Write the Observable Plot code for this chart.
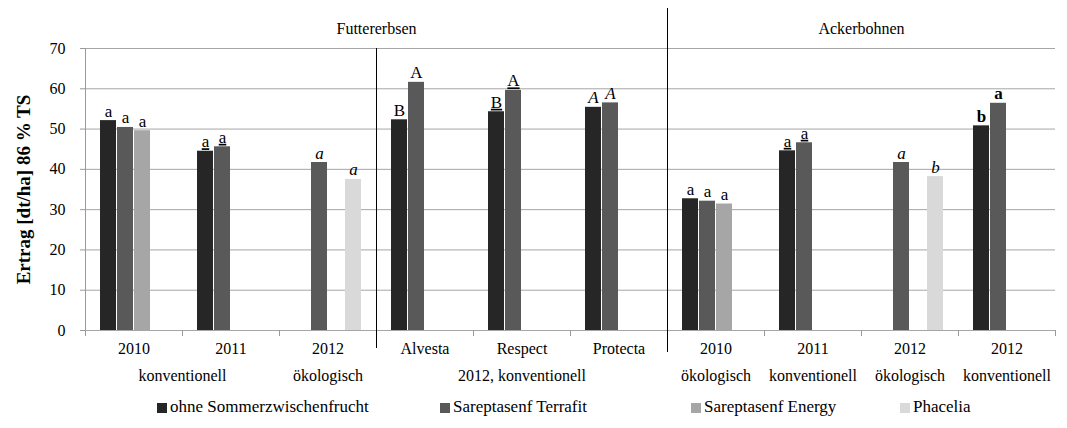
<!DOCTYPE html>
<html><head><meta charset="utf-8">
<script src="https://cdn.jsdelivr.net/npm/d3@7"></script>
<script src="https://cdn.jsdelivr.net/npm/@observablehq/plot@0.6"></script>
<style>
body{margin:0;background:#fff;font-family:"Liberation Serif","Times New Roman",serif;}
#chart{position:relative;width:1067px;height:428px;overflow:hidden;}
g[aria-description="underline"] text{text-decoration:underline;}
.legend{position:absolute;top:390px;left:0;width:1067px;height:34px;font-size:17px;line-height:34px;color:#000;}
.legend .item{position:absolute;top:0;white-space:nowrap;}
.legend .sw{display:inline-block;width:10px;height:10px;margin-right:3px;vertical-align:-1px;}
</style></head>
<body><div id="chart"></div>
<script>
// ---- data ----
const categories = ["F2010","F2011","F2012","Alvesta","Respect","Protecta","A2010","A2011","A2012o","A2012k"];
const categoryLabels = ["2010","2011","2012","Alvesta","Respect","Protecta","2010","2011","2012","2012"];
const secondLineLabels = [null,null,"ökologisch",null,"2012, konventionell",null,"ökologisch","konventionell","ökologisch","konventionell"];
const spanLabels = [null,"konventionell",null,null,null,null,null,null,null,null]; // centred on left edge of category
const cropLabels = [null,null,null,"Futtererbsen",null,null,null,null,"Ackerbohnen",null]; // centred on left edge of category
const dividers = ["Alvesta","A2010"];
const series = ["ohne Sommerzwischenfrucht","Sareptasenf Terrafit","Sareptasenf Energy","Phacelia"];
const colors = ["#262626","#595959","#a6a6a6","#d9d9d9"];
const valuesOhne     = [52.1, 44.5, null, 52.3, 54.3, 55.4, 32.7, 44.6, null, 50.8];
const valuesTerrafit = [50.4, 45.6, 41.7, 61.6, 59.6, 56.5, 32.1, 46.6, 41.7, 56.4];
const valuesEnergy   = [49.6, null, null, null, null, null, 31.4, null, null, null];
const valuesPhacelia = [null, null, 37.5, null, null, null, null, null, 38.2, null];
const lettersOhne     = ["a","a",null,"B","B","A","a","a",null,"b"];
const lettersTerrafit = ["a","a","a","A","A","A","a","a","a","a"];
const lettersEnergy   = ["a",null,null,null,null,null,"a",null,null,null];
const lettersPhacelia = [null,null,"a",null,null,null,null,null,"b",null];
const letterStyles = ["normal","underline","italic","normal","underline","italic","normal","underline","italic","bold"];
const yTicks = [0,10,20,30,40,50,60,70];
const yLabel = "Ertrag [dt/ha] 86 % TS";

// ---- build table ----
const seriesValues = [valuesOhne, valuesTerrafit, valuesEnergy, valuesPhacelia];
const seriesLetters = [lettersOhne, lettersTerrafit, lettersEnergy, lettersPhacelia];
const rows = [];
series.forEach((s, j) => categories.forEach((c, i) => {
  const v = seriesValues[j][i];
  if (v != null) rows.push({cat: c, series: s, value: v, letter: seriesLetters[j][i], style: letterStyles[i]});
}));
const cats = categories.map((c, i) => ({cat: c, label: categoryLabels[i], second: secondLineLabels[i], span: spanLabels[i], crop: cropLabels[i]}));

const H = 390, MT = 48, MB = 60;
const plotH = H - MT - MB;
const font = "Liberation Serif";

const letterMark = (style, extra) => Plot.text(rows.filter(d => d.style === style), {
  fx: "cat", x: "series", y: "value", text: "letter", lineAnchor: "bottom", dy: -4,
  fontSize: 17, fontFamily: font, fill: "#000", ...extra
});

const chart = Plot.plot({
  width: 1067, height: H,
  marginTop: MT, marginBottom: MB, marginLeft: 82, marginRight: 10,
  style: {fontFamily: font, fontSize: "16px", color: "#000", background: "#fff"},
  fx: {domain: categories, padding: 0, axis: null},
  x: {domain: series, paddingInner: 0.05, paddingOuter: 0.8, axis: null},
  y: {domain: [0, 70]},
  color: {domain: series, range: colors},
  marks: [
    Plot.gridY(yTicks, {stroke: "#a6a6a6", strokeOpacity: 1}),
    Plot.axisY(yTicks, {tickSize: 5, tickPadding: 15, stroke: "#999", fill: "#000", label: null, fontSize: 16}),
    // y axis line
    Plot.frame({anchor: "left", stroke: "#999", fx: () => categories[0]}),
    // category boundary ticks
    Plot.frame({anchor: "left", stroke: "#999", insetTop: plotH, insetBottom: -5}),
    Plot.frame({anchor: "right", stroke: "#999", insetTop: plotH, insetBottom: -5}),
    Plot.barY(rows, {fx: "cat", x: "series", y: "value", fill: "series"}),
    // group dividers
    Plot.frame({anchor: "left", stroke: "#000", insetBottom: -17, fx: () => dividers[0]}),
    Plot.frame({anchor: "left", stroke: "#000", insetTop: -40, insetBottom: -21, fx: () => dividers[1]}),
    // letters
    letterMark("normal", {}),
    letterMark("underline", {ariaDescription: "underline"}),
    letterMark("italic", {fontStyle: "italic"}),
    letterMark("bold", {fontWeight: "bold"}),
    // x labels
    Plot.text(cats, {fx: "cat", text: "label", frameAnchor: "bottom", dy: 23, fontSize: 16, fontFamily: font, fill: "#000"}),
    Plot.text(cats.filter(d => d.second), {fx: "cat", text: "second", frameAnchor: "bottom", dy: 50, fontSize: 16, fontFamily: font, fill: "#000"}),
    Plot.text(cats.filter(d => d.span), {fx: "cat", text: "span", frameAnchor: "bottom-left", textAnchor: "middle", dy: 50, fontSize: 16, fontFamily: font, fill: "#000"}),
    Plot.text(cats.filter(d => d.crop), {fx: "cat", text: "crop", frameAnchor: "top-left", textAnchor: "middle", dy: -26, fontSize: 16, fontFamily: font, fill: "#000"}),
    // y label
    Plot.text([yLabel], {fx: () => categories[0], text: d => d, frameAnchor: "left", textAnchor: "middle", rotate: -90, dx: -62, fontSize: 19, fontWeight: "bold", fontFamily: font, fill: "#000"})
  ]
});

const root = document.getElementById("chart");
root.appendChild(chart);

// legend
const legendLeft = [157, 440, 691, 900];
const legend = document.createElement("div");
legend.className = "legend";
series.forEach((s, j) => {
  const item = document.createElement("span");
  item.className = "item";
  item.style.left = legendLeft[j] + "px";
  const sw = document.createElement("span");
  sw.className = "sw";
  sw.style.background = colors[j];
  item.appendChild(sw);
  item.appendChild(document.createTextNode(s));
  legend.appendChild(item);
});
root.appendChild(legend);
</script>
</body></html>
